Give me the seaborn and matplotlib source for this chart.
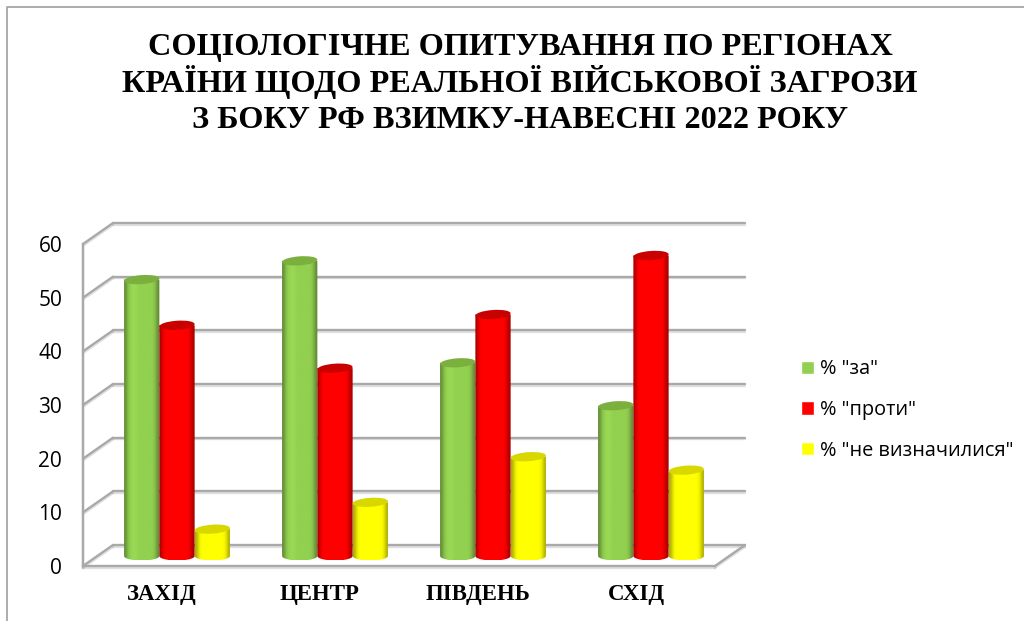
import numpy as np
import pandas as pd
import matplotlib
matplotlib.use("Agg")
import matplotlib.pyplot as plt
import matplotlib.patheffects as pe
from matplotlib.lines import Line2D
from matplotlib.patches import Ellipse
from matplotlib.path import Path
from matplotlib.transforms import Affine2D, IdentityTransform
from matplotlib.colors import to_rgb
import seaborn as sns

# ========== data ==========
regions = ["ЗАХІД", "ЦЕНТР", "ПІВДЕНЬ", "СХІД"]
series_names = ['% "за"', '% "проти"', '% "не визначилися"']
pct_for = [51.5, 55, 36, 28]
pct_against = [43, 35, 45, 56]
pct_undecided = [5, 10, 18.5, 16]
series_colors = ["#92d050", "#ff0000", "#ffff00"]
top_colors = ["#7bb03f", "#c80000", "#d8d800"]
y_ticks = [0, 10, 20, 30, 40, 50, 60]
title_lines = ["СОЦІОЛОГІЧНЕ ОПИТУВАННЯ ПО РЕГІОНАХ",
               "КРАЇНИ ЩОДО РЕАЛЬНОЇ ВІЙСЬКОВОЇ ЗАГРОЗИ",
               "З БОКУ РФ ВЗИМКУ-НАВЕСНІ 2022 РОКУ"]

df = pd.DataFrame({"region": regions, series_names[0]: pct_for,
                   series_names[1]: pct_against, series_names[2]: pct_undecided})
df = df.melt(id_vars="region", var_name="series", value_name="value")

# ========== layout (pixels) ==========
W, H = 1024, 621
DEPTH_X, DEPTH_Y = 30, 21
GRID = "#a9a9a9"

sns.set_theme(style="white")
plt.rcParams["font.family"] = ["Open Sans", "DejaVu Sans"]

fig = plt.figure(figsize=(W / 100, H / 100), dpi=100, facecolor="white")


def px_axes(left, right, top, bottom):
    return fig.add_axes([left / W, 1 - bottom / H, (right - left) / W, (bottom - top) / H])


# front plane carries the axis, bars stand half way into the box
front = px_axes(83, 715, 244, 566)
ax = px_axes(98, 730, 234, 556)
ax.patch.set_alpha(0)

for a in (front, ax):
    a.set_xlim(-0.5, 3.5)
    a.set_ylim(0, 60)

# ========== axis ==========
front.set_yticks(y_ticks)
front.set_xticks(np.arange(-0.5, 4, 1))
front.set_xticklabels([])
front.set_xticks(range(len(regions)), regions, minor=True)
front.tick_params(axis="x", which="minor", length=0, pad=13, labelsize=16.5, labelcolor="black")
front.tick_params(axis="x", which="major", length=5, width=1, color=GRID)
front.tick_params(axis="y", length=5, width=1.3, color=GRID, labelsize=15, labelcolor="black", pad=10)
for lab in front.get_xticklabels(minor=True):
    lab.set_family("Liberation Serif")
    lab.set_weight("bold")
for name, sp in front.spines.items():
    sp.set_visible(name in ("left", "bottom"))
    sp.set_color(GRID)
    sp.set_linewidth(1.7)
    sp.set_path_effects([pe.SimpleLineShadow(offset=(0, -1.2), shadow_color="#999999", alpha=0.3), pe.Normal()])

# back wall and side lines
wall = front.transData + Affine2D().translate(DEPTH_X, DEPTH_Y)
shadow = [pe.SimpleLineShadow(offset=(0, -1.3), shadow_color="#999999", alpha=0.3), pe.Normal()]
for yv in y_ticks:
    front.plot([-0.5, 3.5], [yv, yv], transform=wall, color=GRID, lw=1.7, clip_on=False,
               path_effects=shadow, zorder=1)
    x0, y0 = front.transData.transform((-0.5, yv))
    front.add_line(Line2D([x0, x0 + DEPTH_X], [y0, y0 + DEPTH_Y], transform=IdentityTransform(),
                          color=GRID, lw=1.7, clip_on=False, path_effects=shadow, zorder=1))
x0, y0 = front.transData.transform((3.5, 0))
front.add_line(Line2D([x0, x0 + DEPTH_X], [y0, y0 + DEPTH_Y], transform=IdentityTransform(),
                      color=GRID, lw=1.7, clip_on=False, path_effects=shadow, zorder=1))
front.set_xlim(-0.5, 3.5)
front.set_ylim(0, 60)

# ========== bars ==========
sns.barplot(data=df, x="region", y="value", hue="series", hue_order=series_names,
            palette=series_colors, saturation=1, width=0.67, gap=0, ax=ax)
ax.set_xlim(-0.5, 3.5)
ax.set_ylim(0, 60)
handles, labels = ax.get_legend_handles_labels()
ax.get_legend().remove()
ax.axis("off")

# cylinder shading on top of every seaborn bar
shade = np.array([0.68, 0.8, 0.93, 1.0, 1.03, 1.05, 1.04, 1.02, 1.0, 1.0, 1.0, 1.0, 1.0, 1.0, 1.0, 1.0, 0.97, 0.88, 0.74, 0.66])
ell_px = 9.0
ell_data = ell_px / 2 * 60 / 322
t = np.linspace(np.pi, 2 * np.pi, 40)
for i, container in enumerate(ax.containers):
    rgb = np.array(to_rgb(series_colors[i]))
    img = np.clip(shade[None, :, None] * rgb[None, None, :], 0, 1)
    for p in container.patches:
        x, w, h = p.get_x(), p.get_width(), p.get_height()
        p.set_zorder(3 + i)
        p.set_visible(False)
        im = ax.imshow(img, extent=(x, x + w, -ell_data, h), aspect="auto",
                       interpolation="bicubic", zorder=3 + i)
        # rectangle plus the round lower edge of the cylinder
        xs = np.r_[x, x + w, x + w / 2 + w / 2 * np.cos(t)[::-1]]
        ys = np.r_[h, h, ell_data * np.sin(t)[::-1]]
        im.set_clip_box(fig.bbox)
        im.set_clip_path(Path(np.c_[xs, ys]), ax.transData)
        cx, cy = ax.transData.transform((x + w / 2, h))
        wpx = ax.transData.transform((x + w, 0))[0] - ax.transData.transform((x, 0))[0]
        ax.add_patch(Ellipse((cx, cy), wpx, ell_px, angle=4, transform=IdentityTransform(),
                             facecolor=top_colors[i], edgecolor="none", clip_on=False, zorder=3 + i))
ax.set_xlim(-0.5, 3.5)
ax.set_ylim(0, 60)

# ========== text ==========
for line, base in zip(title_lines, [55, 92, 128]):
    fig.text(520 / W, 1 - base / H, line, ha="center", va="baseline", family="Liberation Serif",
             weight="bold", fontsize=23.2, color="black")

leg = fig.legend(handles, labels, loc="center left", bbox_to_anchor=(801 / W, 1 - 410 / H), frameon=False,
                 fontsize=14.3, handlelength=0.66, handleheight=0.66, handletextpad=0.3, labelspacing=1.04,
                 borderpad=0, borderaxespad=0, labelcolor="black")

# outer chart frame, open on the right and at the bottom
fig.add_artist(Line2D([6.5 / W, 6.5 / W, 1], [0, 1 - 7 / H, 1 - 7 / H], color="#a6a6a6", lw=1.3))

fig.savefig("out.png", dpi=100)
